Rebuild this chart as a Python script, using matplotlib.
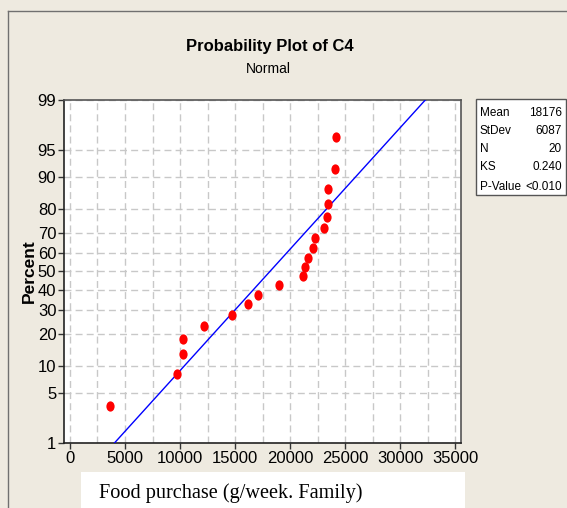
import numpy as np
import matplotlib
matplotlib.use("Agg")
import matplotlib.pyplot as plt
from matplotlib.path import Path
from matplotlib.transforms import Affine2D
from matplotlib.patches import Rectangle
from matplotlib.lines import Line2D
from statistics import NormalDist

# ---- data ----
food = [3670, 9700, 10240, 10280, 12210, 14730, 16190, 17120, 19030, 21210,
        21400, 21600, 22100, 22300, 23100, 23400, 23490, 23490, 24120, 24190]
percent = [3.4, 8.3, 13.2, 18.1, 23.0, 27.9, 32.8, 37.7, 42.6, 47.5,
           52.5, 57.4, 62.3, 67.2, 72.1, 77.0, 81.9, 86.8, 91.7, 96.6]
fit_mean = 18176
fit_sd = 6087
stat_labels = ["Mean", "StDev", "N", "KS", "P-Value"]
stat_values = ["18176", "6087", "20", "0.240", "<0.010"]
y_ticks = [1, 5, 10, 20, 30, 40, 50, 60, 70, 80, 90, 95, 99]
x_ticks = [0, 5000, 10000, 15000, 20000, 25000, 30000, 35000]

W, H = 567, 508
BG = "#EEEAE0"
NARROW = ["Liberation Sans Narrow", "Liberation Sans", "DejaVu Sans"]

nd = NormalDist()
_ppf = np.vectorize(lambda v: nd.inv_cdf(v / 100.0), otypes=[float])
_cdf = np.vectorize(lambda v: nd.cdf(v) * 100.0, otypes=[float])

def fwd(p):
    p = np.clip(np.asarray(p, dtype=float), 1e-6, 100 - 1e-6)
    return _ppf(p)

def inv(z):
    return _cdf(np.asarray(z, dtype=float))

fig = plt.figure(figsize=(W / 100, H / 100), dpi=100, facecolor=BG)

# outer frame lines
fig.add_artist(Line2D([8 / W, 8 / W], [0, 1 - 11 / H], transform=fig.transFigure, color="#707070", lw=1))
fig.add_artist(Line2D([8 / W, 1], [1 - 11 / H, 1 - 11 / H], transform=fig.transFigure, color="#707070", lw=1))

ax = fig.add_axes([64 / W, (H - 443.3) / H, (461.3 - 64) / W, (443.3 - 99.5) / H])
ax.set_facecolor("white")
ax.set_yscale("function", functions=(fwd, inv))
ax.set_ylim(1, 99)
ax.set_xlim(-545, 35570)

ax.set_yticks(y_ticks)
ax.set_yticklabels([str(t) for t in y_ticks])
ax.set_xticks(x_ticks)
ax.set_xticklabels([str(t) for t in x_ticks])
ax.set_xticks(np.arange(2500, 35000, 5000), minor=True)
ax.yaxis.set_minor_locator(matplotlib.ticker.NullLocator())
ax.tick_params(axis="both", which="major", direction="out", length=4, width=1,
               color="#333333", labelsize=12, pad=1.5)
ax.tick_params(axis="x", which="minor", length=0)
for lab in ax.get_xticklabels() + ax.get_yticklabels():
    lab.set_family(NARROW)
ax.grid(True, which="both", axis="x", color="#C8C8C8", ls=(0, (5, 3)), lw=1)
ax.grid(True, which="major", axis="y", color="#C8C8C8", ls=(0, (5, 3)), lw=1)
ax.set_axisbelow(True)
for s in ["left", "bottom"]:
    ax.spines[s].set_color("#222222")
    ax.spines[s].set_linewidth(1.2)
for s in ["top", "right"]:
    ax.spines[s].set_color("#555555")
    ax.spines[s].set_linewidth(1.2)

# fitted line
pl = np.array([0.5, 99.5])
xl = fit_mean + fit_sd * fwd(pl)
ax.plot(xl, pl, color="#0000FF", lw=1.0, zorder=3)

# points (ellipse markers)
ell = Path.unit_circle().transformed(Affine2D().scale(1.0, 1.25))
ax.plot(food, percent, ls="none", marker=ell, markersize=7.4, color="#FF0000",
        markeredgewidth=0, zorder=4)

ax.set_ylabel("Percent", family=NARROW, fontsize=12.5, fontweight="bold", labelpad=0.5)

# titles
fig.text(270 / W, 1 - 46 / H, "Probability Plot of C4", ha="center", va="center",
         family=NARROW, fontsize=12, fontweight="bold")
fig.text(268 / W, 1 - 69 / H, "Normal", ha="center", va="center",
         family=NARROW, fontsize=10)

# stats box
fig.add_artist(Rectangle((476 / W, 1 - 195 / H), (566 - 476) / W, (195 - 99) / H,
                         transform=fig.transFigure, facecolor="white",
                         edgecolor="#555555", lw=1))
rows_y = [112.7, 131, 149.3, 167.3, 186.7]
for lab, val, yy in zip(stat_labels, stat_values, rows_y):
    fig.text(480 / W, 1 - yy / H, lab, ha="left", va="center", family=NARROW, fontsize=8.5)
    fig.text(562 / W, 1 - yy / H, val, ha="right", va="center", family=NARROW, fontsize=8.5)

# x label in white box
fig.add_artist(Rectangle((81 / W, 0), (465 - 81) / W, (508 - 471.7) / H,
                         transform=fig.transFigure, facecolor="white", edgecolor="none"))
fig.text(99 / W, 1 - 493 / H, "Food purchase (g/week. Family)", ha="left", va="center",
         family=["Liberation Serif", "DejaVu Serif"], fontsize=14.6)

fig.savefig("out.png", dpi=100, facecolor=BG)
